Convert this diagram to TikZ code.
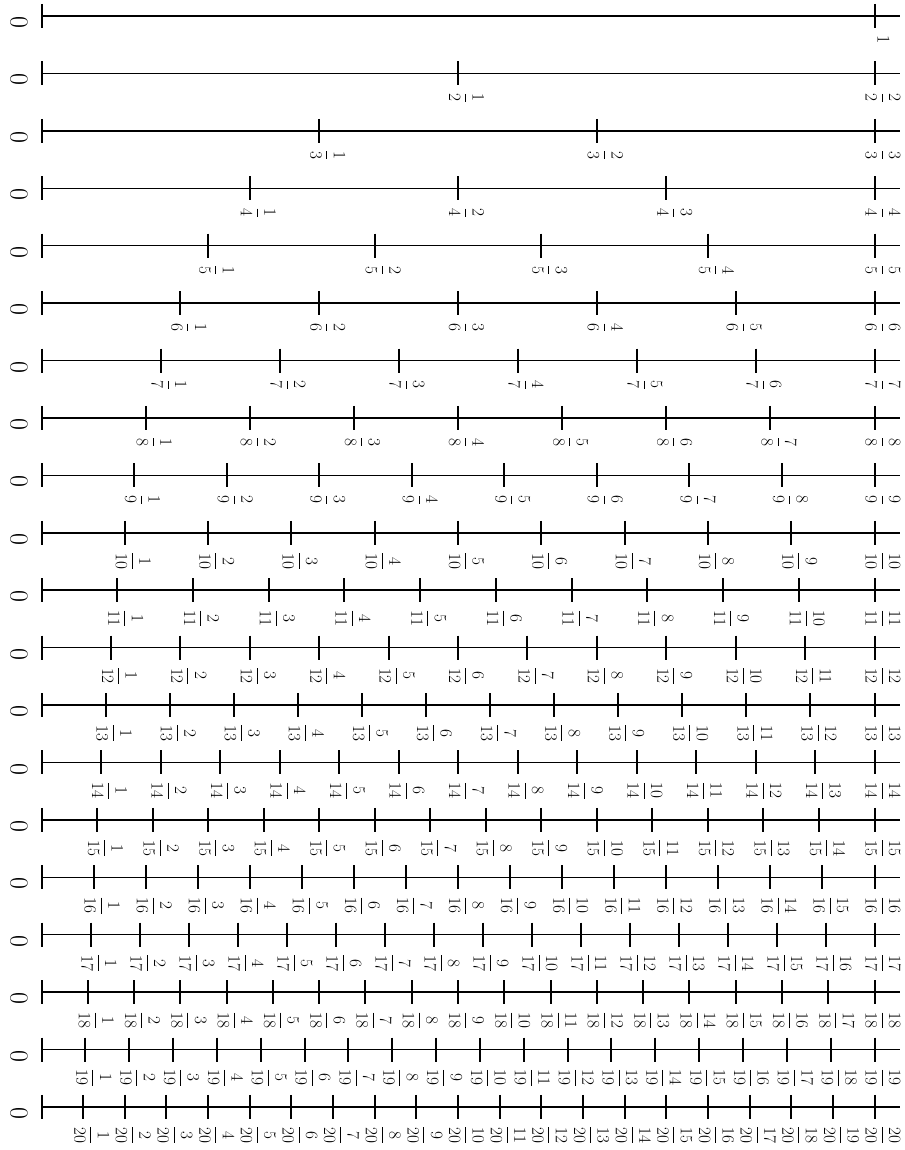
\documentclass[tikz,border=0pt]{standalone}
\tikzset{
  axisline/.style={line width=1.5pt},
  tickmark/.style={line width=2pt},
  fraclabel/.style={rotate=-90, anchor=base west, inner sep=0pt, font=\fontsize{18}{20}\selectfont},
  zerolabel/.style={rotate=-90, inner sep=0pt, font=\fontsize{26}{28}\selectfont}
}
\begin{document}
\begin{tikzpicture}[x=1pt,y=1pt]
\useasboundingbox (0,0) rectangle (904,-1150);
\foreach \n in {1,...,20} {
  \pgfmathsetmacro{\yy}{-(16+(\n-1)*57.42)}
  \pgfmathsetmacro{\dx}{833/\n}
  \coordinate (s\n) at (41.5,\yy);
  \coordinate (e\n) at (900,\yy);
  \draw[axisline] (s\n) -- (e\n);
  \node[zerolabel] (z\n) at (19,\yy-6.5) {0};
  \draw[tickmark] ([yshift=12pt]s\n) -- ([yshift=-12pt]s\n);
  \foreach \k in {1,...,\n} {
    \pgfmathsetmacro{\xx}{41.5+\dx*\k}
    \coordinate (t\n-\k) at (\xx,\yy);
    \draw[tickmark] ([yshift=12pt]t\n-\k) -- ([yshift=-12pt]t\n-\k);
    \node[fraclabel] (f\n-\k) at (\xx+3,\yy-19) {\ifnum\n=1 1\else$\displaystyle\frac{\k}{\n}$\fi};
  }
}
\end{tikzpicture}
\end{document}
